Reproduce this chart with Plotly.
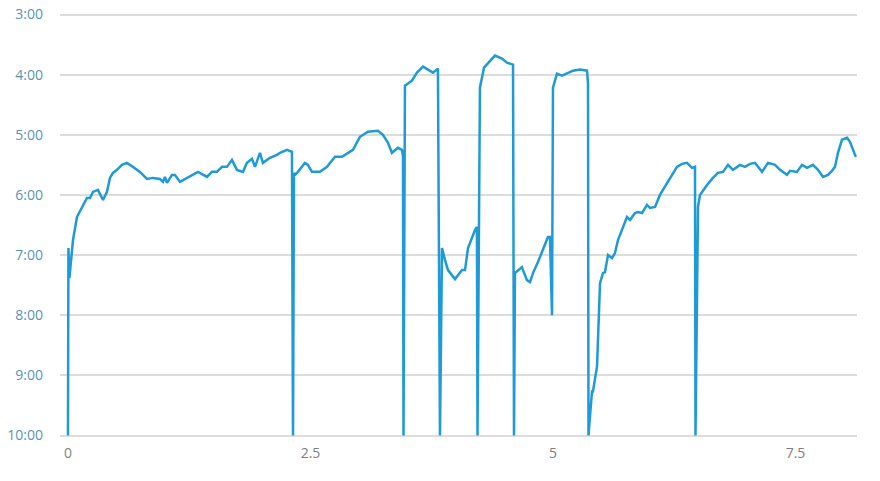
import plotly.graph_objects as go

distance_km = [
    0.000, 0.005, 0.015, 0.052, 0.093, 0.113, 0.196, 0.227, 0.258, 0.309,
    0.361, 0.402, 0.433, 0.464, 0.505, 0.557, 0.608, 0.670, 0.742, 0.814,
    0.876, 0.948, 0.979, 1.000, 1.021, 1.072, 1.103, 1.155, 1.227, 1.289,
    1.340, 1.433, 1.485, 1.536, 1.588, 1.639, 1.691, 1.742, 1.804, 1.845,
    1.897, 1.928, 1.979, 2.010, 2.082, 2.155, 2.186, 2.258, 2.309, 2.320,
    2.330, 2.340, 2.371, 2.443, 2.474, 2.515, 2.598, 2.670, 2.753, 2.825,
    2.907, 2.938, 3.010, 3.093, 3.196, 3.247, 3.299, 3.340, 3.402, 3.443,
    3.454, 3.459, 3.474, 3.505, 3.546, 3.598, 3.660, 3.763, 3.814, 3.835,
    3.856, 3.887, 3.918, 3.990, 4.062, 4.093, 4.124, 4.196, 4.216, 4.222,
    4.247, 4.289, 4.351, 4.402, 4.474, 4.526, 4.588, 4.598, 4.608, 4.639,
    4.680, 4.691, 4.732, 4.763, 4.794, 4.845, 4.897, 4.948, 4.969, 4.990,
    5.000, 5.041, 5.093, 5.144, 5.206, 5.278, 5.351, 5.361, 5.366, 5.402,
    5.412, 5.454, 5.485, 5.515, 5.536, 5.567, 5.608, 5.639, 5.670, 5.763,
    5.794, 5.845, 5.876, 5.918, 5.969, 6.000, 6.052, 6.103, 6.206, 6.278,
    6.330, 6.381, 6.433, 6.464, 6.469, 6.495, 6.515, 6.588, 6.649, 6.701,
    6.753, 6.804, 6.856, 6.928, 6.979, 7.031, 7.082, 7.155, 7.216, 7.289,
    7.340, 7.412, 7.443, 7.515, 7.567, 7.619, 7.680, 7.732, 7.784, 7.835,
    7.876, 7.907, 7.938, 7.979, 8.031, 8.062, 8.113, 8.124,
]

pace_sec = [
    600, 413, 443, 405, 382, 378, 363, 363, 357, 355,
    365, 357, 343, 338, 335, 330, 328, 332, 337, 344,
    343, 344, 347, 342, 348, 340, 340, 347, 343, 340,
    337, 342, 337, 337, 332, 332, 325, 335, 337, 328,
    324, 332, 318, 328, 323, 320, 318, 315, 317, 600,
    338, 340, 337, 328, 330, 337, 337, 332, 322, 322,
    317, 315, 302, 297, 296, 300, 308, 318, 313, 315,
    322, 600, 251, 249, 246, 238, 232, 238, 234, 600,
    413, 425, 435, 444, 435, 435, 413, 395, 392, 600,
    253, 233, 226, 221, 224, 228, 230, 600, 438, 435,
    432, 435, 445, 447, 438, 427, 415, 402, 402, 480,
    253, 239, 241, 239, 236, 235, 236, 249, 600, 556,
    556, 531, 448, 438, 437, 420, 423, 418, 405, 382,
    385, 378, 377, 378, 370, 373, 372, 360, 343, 332,
    329, 328, 333, 332, 600, 372, 360, 350, 343, 338,
    337, 330, 335, 330, 332, 329, 328, 337, 328, 330,
    335, 340, 336, 337, 330, 333, 330, 335, 342, 340,
    336, 332, 318, 305, 303, 307, 320, 322,
]

y_tick_vals = [180, 240, 300, 360, 420, 480, 540, 600]
y_tick_text = ["3:00", "4:00", "5:00", "6:00", "7:00", "8:00", "9:00", "10:00"]
x_tick_vals = [0, 2.5, 5, 7.5]
x_tick_text = ["0", "2.5", "5", "7.5"]

fig = go.Figure()
fig.add_trace(go.Scatter(
    x=distance_km, y=pace_sec, mode="lines",
    line=dict(color="#1e9ad6", width=2.5),
    hoverinfo="skip", showlegend=False, cliponaxis=False,
))

fig.update_layout(
    width=880, height=481,
    margin=dict(l=60, r=23, t=13, b=44),
    paper_bgcolor="white", plot_bgcolor="white",
    font=dict(family="Open Sans", size=14),
)
fig.update_xaxes(
    range=[-0.082, 8.134], tickvals=x_tick_vals, ticktext=x_tick_text,
    showgrid=False, zeroline=False, showline=False, automargin=False,
    tickfont=dict(color="#808080", size=14), ticks="", ticklabelstandoff=6,
)
fig.update_yaxes(
    range=[601.5, 178.5], tickvals=y_tick_vals, ticktext=y_tick_text,
    showgrid=True, gridcolor="#dcdcdc", gridwidth=1.5, zeroline=False,
    showline=False, automargin=False, ticklabeloverflow="allow",
    tickfont=dict(color="#5a93b8", size=14), ticks="",
    ticklabelstandoff=16,
)

fig.write_html("out.html", config={"displayModeBar": False},
               post_script="document.body.style.margin='0';")
